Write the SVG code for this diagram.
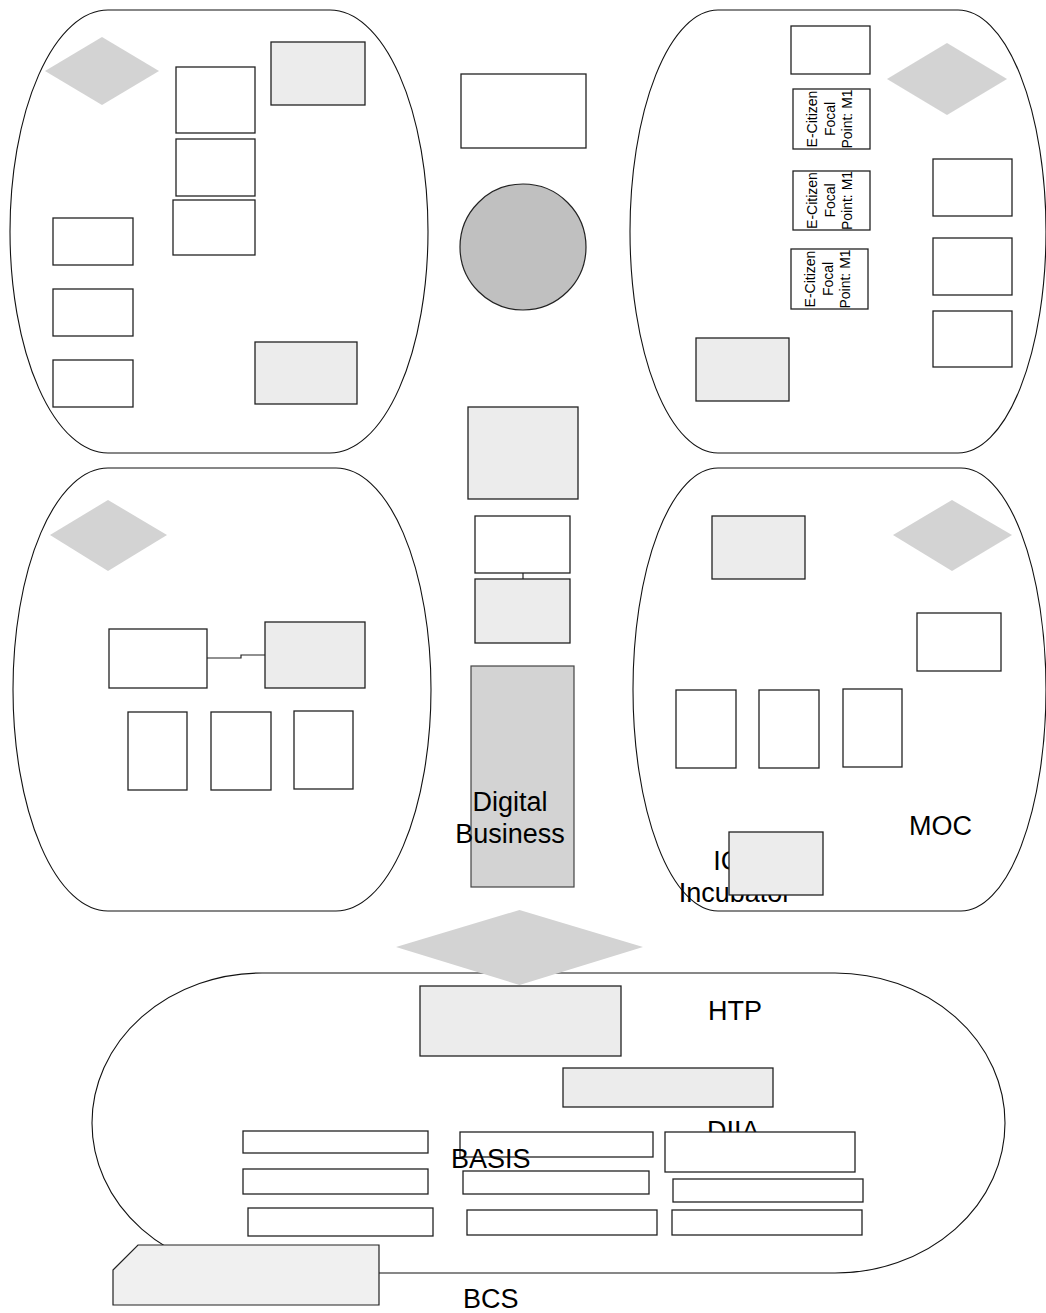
<svg xmlns="http://www.w3.org/2000/svg" width="1046" height="1313" viewBox="0 0 1046 1313">
<style>
.cap{fill:#fff;stroke:#111;stroke-width:1.1}
.w{fill:#fff;stroke:#222;stroke-width:1.3}
.g{fill:#ececec;stroke:#222;stroke-width:1.3}
.d{fill:#d3d3d3;stroke:#444;stroke-width:1.2}
.dia{fill:#d3d3d3;stroke:none}
.t{font-family:"Liberation Sans",Arial,sans-serif;font-size:27px;fill:#000}
.s{font-family:"Liberation Sans",Arial,sans-serif;font-size:14px;fill:#000;text-anchor:middle}
.ln{fill:none;stroke:#222;stroke-width:1.2}
</style>
<rect width="1046" height="1313" fill="#fff"/>

<g id="cluster-top-left">
<path class="cap" d="M108,10 H330 A98 221.5 0 0 1 428 231.5 A98 221.5 0 0 1 330 453 H108 A98 221.5 0 0 1 10 231.5 A98 221.5 0 0 1 108 10 Z"/>
<polygon class="dia" points="45,71 102,37 159,71 102,105"/>
<rect class="g" x="271" y="42" width="94" height="63"/>
<rect class="w" x="176" y="67" width="79" height="66"/>
<rect class="w" x="176" y="139" width="79" height="57"/>
<rect class="w" x="173" y="200" width="82" height="55"/>
<rect class="w" x="53" y="218" width="80" height="47"/>
<rect class="w" x="53" y="289" width="80" height="47"/>
<rect class="w" x="53" y="360" width="80" height="47"/>
<rect class="g" x="255" y="342" width="102" height="62"/>
</g>

<g id="center-top">
<rect class="w" x="461" y="74" width="125" height="74"/>
<circle cx="523" cy="247" r="63" fill="#c0c0c0" stroke="#222" stroke-width="1.2"/>
<rect class="g" x="468" y="407" width="110" height="92"/>
</g>

<g id="cluster-top-right">
<path class="cap" d="M718,10 H958 A88 221.5 0 0 1 1046 231.5 A88 221.5 0 0 1 958 453 H718 A88 221.5 0 0 1 630 231.5 A88 221.5 0 0 1 718 10 Z"/>
<rect class="w" x="791" y="26" width="79" height="48"/>
<polygon class="dia" points="887,79 947,43 1007,79 947,115"/>
<g id="ecitizen-1">
<rect class="w" x="793" y="89" width="77" height="60"/>
<text class="s" transform="translate(831.5,119) rotate(-90)"><tspan x="0" y="-14.5">E-Citizen</tspan><tspan x="0" y="3">Focal</tspan><tspan x="0" y="20.5">Point: M1</tspan></text>
</g>
<g id="ecitizen-2">
<rect class="w" x="793" y="171" width="77" height="59"/>
<text class="s" transform="translate(831.5,200.5) rotate(-90)"><tspan x="0" y="-14.5">E-Citizen</tspan><tspan x="0" y="3">Focal</tspan><tspan x="0" y="20.5">Point: M1</tspan></text>
</g>
<g id="ecitizen-3">
<rect class="w" x="791" y="249" width="77" height="60"/>
<text class="s" transform="translate(829.5,279) rotate(-90)"><tspan x="0" y="-14.5">E-Citizen</tspan><tspan x="0" y="3">Focal</tspan><tspan x="0" y="20.5">Point: M1</tspan></text>
</g>
<rect class="w" x="933" y="159" width="79" height="57"/>
<rect class="w" x="933" y="238" width="79" height="57"/>
<rect class="w" x="933" y="311" width="79" height="56"/>
<rect class="g" x="696" y="338" width="93" height="63"/>
</g>

<g id="cluster-mid-left">
<path class="cap" d="M108,468 H336 A95 221.5 0 0 1 431 689.5 A95 221.5 0 0 1 336 911 H108 A95 221.5 0 0 1 13 689.5 A95 221.5 0 0 1 108 468 Z"/>
<polygon class="dia" points="50,535 108,500 167,535 108,571"/>
<rect class="w" x="109" y="629" width="98" height="59"/>
<rect class="g" x="265" y="622" width="100" height="66"/>
<rect class="w" x="128" y="712" width="59" height="78"/>
<rect class="w" x="211" y="712" width="60" height="78"/>
<rect class="w" x="294" y="711" width="59" height="78"/>
</g>

<g id="center-mid">
<rect class="w" x="475" y="516" width="95" height="57"/>
<rect class="g" x="475" y="579" width="95" height="64"/>
<g id="digital-business">
<rect class="d" x="471" y="666" width="103" height="221"/>
<text class="t" text-anchor="middle"><tspan x="510" y="811">Digital</tspan><tspan x="510" y="843">Business</tspan></text>
</g>
</g>

<g id="cluster-mid-right">
<path class="cap" d="M718,468 H961 A85 221.5 0 0 1 1046 689.5 A85 221.5 0 0 1 961 911 H718 A85 221.5 0 0 1 633 689.5 A85 221.5 0 0 1 718 468 Z"/>
<polygon class="dia" points="893,535 952,500 1012,535 952,571"/>
<rect class="g" x="712" y="516" width="93" height="63"/>
<rect class="w" x="917" y="613" width="84" height="58"/>
<rect class="w" x="676" y="690" width="60" height="78"/>
<rect class="w" x="759" y="690" width="60" height="78"/>
<rect class="w" x="843" y="689" width="59" height="78"/>
<text class="t" x="909" y="835">MOC</text>
<text class="t" text-anchor="middle"><tspan x="735" y="870">ICT</tspan><tspan x="735" y="902">Incubator</tspan></text>
<rect class="g" x="729" y="832" width="94" height="63"/>
</g>

<g id="cluster-bottom">
<path class="cap" d="M262,973 H835 A170 150 0 0 1 1005 1123 A170 150 0 0 1 835 1273 H262 A170 150 0 0 1 92 1123 A170 150 0 0 1 262 973 Z"/>
<polygon class="dia" points="396,947 519.5,910 643,947 519.5,985"/>
<rect class="g" x="420" y="986" width="201" height="70"/>
<text class="t" x="708" y="1020">HTP</text>
<rect class="g" x="563" y="1068" width="210" height="39"/>
<text class="t" x="707" y="1140">DIIA</text>
<rect class="w" x="243" y="1131" width="185" height="22"/>
<rect class="w" x="460" y="1132" width="193" height="25"/>
<rect class="w" x="665" y="1132" width="190" height="40"/>
<rect class="w" x="243" y="1169" width="185" height="25"/>
<rect class="w" x="463" y="1171" width="186" height="23"/>
<rect class="w" x="673" y="1179" width="190" height="23"/>
<rect class="w" x="248" y="1208" width="185" height="28"/>
<rect class="w" x="467" y="1210" width="190" height="25"/>
<rect class="w" x="672" y="1210" width="190" height="25"/>
<text class="t" x="451" y="1168">BASIS</text>
<polygon points="113,1270 138,1245 379,1245 379,1305 113,1305" fill="#f0f0f0" stroke="#222" stroke-width="1.2"/>
<text class="t" x="463" y="1308">BCS</text>
</g>

<g id="connectors">
<path class="ln" d="M207,658 H241 V655 H265"/>
<path class="ln" d="M523,573 V579"/>
</g>
</svg>
